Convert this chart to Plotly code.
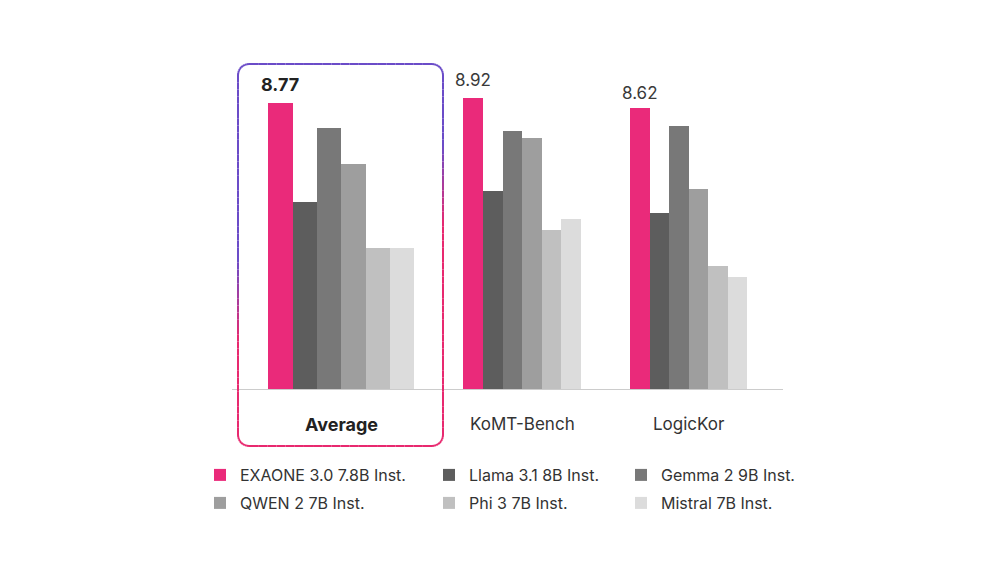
import plotly.graph_objects as go
import math

# ---- data ----
categories = ["Average", "KoMT-Bench", "LogicKor"]
models = ["EXAONE 3.0 7.8B Inst.", "Llama 3.1 8B Inst.", "Gemma 2 9B Inst.",
          "QWEN 2 7B Inst.", "Phi 3 7B Inst.", "Mistral 7B Inst."]
exaone = [8.77, 8.92, 8.62]
llama = [5.73, 6.06, 5.40]
gemma = [8.00, 7.92, 8.07]
qwen = [6.91, 7.69, 6.12]
phi = [4.32, 4.87, 3.76]
mistral = [4.31, 5.20, 3.42]
series = [exaone, llama, gemma, qwen, phi, mistral]
value_labels = ["8.77", "8.92", "8.62"]

# ---- style ----
colors = ["#EA2A7A", "#5D5D5D", "#787878", "#9E9E9E", "#C0C0C0", "#DCDCDC"]
FONT = "Inter, Roboto, 'Noto Sans', sans-serif"

# layout geometry (pixels in the screenshot; page body adds an 8px offset)
W, H = 1000, 562
BODY = 8
PL, PR, PT, PB = 232, 783, 60, 389       # plot area edges in screenshot px
unit_px = (PR - PL) / 3.0
group_center_px = [341.3, 522.1, 688.5]
bar_w_px = [24.33, 19.6, 19.5]
YMAX = 10.09

cat_pos_px = [PL + (i + 0.5) * unit_px for i in range(3)]
shift = [(group_center_px[i] - cat_pos_px[i]) / unit_px for i in range(3)]
bw = [b / unit_px for b in bar_w_px]

def px2paper_x(px):
    return (px - PL) / (PR - PL)

def px2paper_y(py):
    return (PB - py) / (PB - PT)

fig = go.Figure()

legend_of = ["legend", "legend2", "legend3", "legend", "legend2", "legend3"]
for k, (name, vals) in enumerate(zip(models, series)):
    offsets = [shift[j] - 3 * bw[j] + k * bw[j] for j in range(3)]
    fig.add_trace(go.Bar(
        x=categories, y=vals, name=name,
        width=bw, offset=offsets,
        marker=dict(color=colors[k], line=dict(width=0)),
        legend=legend_of[k], legendgroup=name, showlegend=True,
        hoverinfo="x+y+name",
    ))

annotations = []
label_shift = [6, 6, 3]
for j in range(3):
    annotations.append(dict(
        x=j + shift[j] - 2.5 * bw[j], y=exaone[j], xref="x", yref="y",
        text=("<b>%s</b>" % value_labels[j]) if j == 0 else value_labels[j],
        showarrow=False, yanchor="bottom", yshift=label_shift[j],
        font=dict(family=FONT, size=18 if j == 0 else 17,
                  color="#222222" if j == 0 else "#3a3a3a"),
    ))
for j in range(3):
    annotations.append(dict(
        x=j + shift[j], y=px2paper_y(424), xref="x", yref="paper",
        text=("<b>%s</b>" % categories[j]) if j == 0 else categories[j],
        showarrow=False, yanchor="middle",
        font=dict(family=FONT, size=18 if j == 0 else 17,
                  color="#222222" if j == 0 else "#333333"),
    ))

# ---- gradient rounded box around "Average" ----
bx0, by0, bx1, by1, rad = 238, 64, 443, 446, 11
purple = (0x6B, 0x4C, 0xC8)
pink = (0xE8, 0x29, 0x6F)

def outline_points():
    pts = []
    def arc(cx, cy, a0, a1, n=8):
        for i in range(n + 1):
            a = math.radians(a0 + (a1 - a0) * i / n)
            pts.append((cx + rad * math.cos(a), cy + rad * math.sin(a)))
    def line(p0, p1, n):
        for i in range(1, n):
            pts.append((p0[0] + (p1[0] - p0[0]) * i / n, p0[1] + (p1[1] - p0[1]) * i / n))
    arc(bx0 + rad, by0 + rad, 180, 270)
    line((bx0 + rad, by0), (bx1 - rad, by0), 20)
    arc(bx1 - rad, by0 + rad, 270, 360)
    line((bx1, by0 + rad), (bx1, by1 - rad), 50)
    arc(bx1 - rad, by1 - rad, 0, 90)
    line((bx1 - rad, by1), (bx0 + rad, by1), 20)
    arc(bx0 + rad, by1 - rad, 90, 180)
    line((bx0, by1 - rad), (bx0, by0 + rad), 50)
    pts.append(pts[0])
    return pts

def grad_color(px, py):
    c = 300 - (115.0 / 205.0) * (px - bx0)
    t = (py - c + 40) / 80.0
    t = max(0.0, min(1.0, t))
    r, g, b = [round(purple[i] + (pink[i] - purple[i]) * t) for i in range(3)]
    return "rgb(%d,%d,%d)" % (r, g, b)

shapes = []
pts = outline_points()
for (xa, ya), (xb, yb) in zip(pts[:-1], pts[1:]):
    shapes.append(dict(
        type="line", xref="paper", yref="paper",
        x0=px2paper_x(xa), y0=px2paper_y(ya), x1=px2paper_x(xb), y1=px2paper_y(yb),
        line=dict(color=grad_color((xa + xb) / 2, (ya + yb) / 2), width=2),
        layer="above",
    ))

legend_common = dict(
    orientation="v", xanchor="left", yanchor="top",
    font=dict(family=FONT, size=16, color="#333333"),
    bgcolor="rgba(0,0,0,0)", tracegroupgap=4.2, itemclick=False, itemdoubleclick=False,
)
leg_top = px2paper_y(458)

fig.update_layout(
    width=W, height=H,
    margin=dict(l=PL - BODY, r=W - (PR - BODY), t=PT - BODY, b=H - (PB - BODY), autoexpand=False),
    paper_bgcolor="white", plot_bgcolor="white",
    barmode="overlay", bargap=0,
    font=dict(family=FONT, color="#333333"),
    xaxis=dict(type="category", range=[-0.5, 2.5], showticklabels=False, ticks="",
               showgrid=False, showline=True, linecolor="#cccccc", linewidth=1,
               zeroline=False, fixedrange=True),
    yaxis=dict(range=[0, YMAX], visible=False, showgrid=False, zeroline=False, fixedrange=True),
    legend=dict(x=px2paper_x(200), y=leg_top, **legend_common),
    legend2=dict(x=px2paper_x(429), y=leg_top, **legend_common),
    legend3=dict(x=px2paper_x(621), y=leg_top, **legend_common),
    annotations=annotations,
    shapes=shapes,
)

fig.write_html("out.html")
